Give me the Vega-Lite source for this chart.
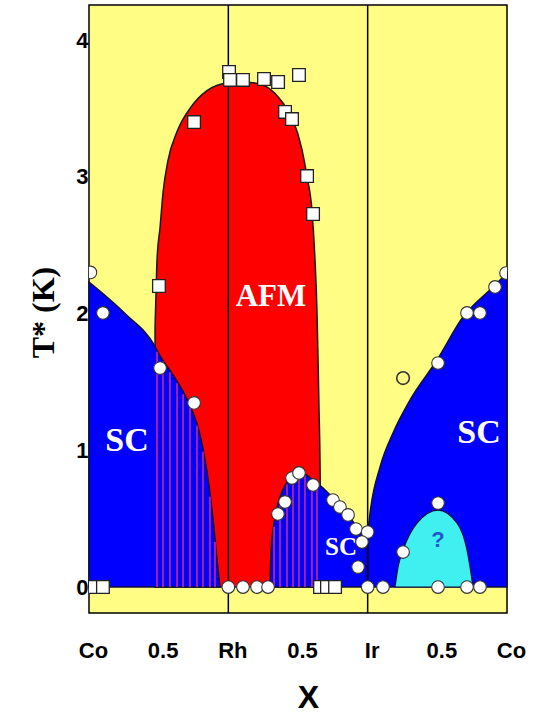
{
  "$schema": "https://vega.github.io/schema/vega-lite/v6.json",
  "width": 418,
  "height": 608,
  "autosize": "none",
  "padding": {"left": 89, "top": 5, "right": 27, "bottom": 101},
  "background": "white",
  "config": {"view": {"fill": "#FFFD84", "stroke": "#000000", "strokeWidth": 1.5}},
  "datasets": {
    "afm": [
      {"x": 0.474, "t": 1.90}, {"x": 0.481, "t": 2.15}, {"x": 0.488, "t": 2.39}, {"x": 0.510, "t": 2.63},
      {"x": 0.531, "t": 2.88}, {"x": 0.567, "t": 3.12}, {"x": 0.632, "t": 3.33}, {"x": 0.725, "t": 3.50},
      {"x": 0.847, "t": 3.63}, {"x": 1.0, "t": 3.686}, {"x": 1.156, "t": 3.69}, {"x": 1.278, "t": 3.656},
      {"x": 1.392, "t": 3.539}, {"x": 1.464, "t": 3.416}, {"x": 1.529, "t": 3.196}, {"x": 1.565, "t": 3.0},
      {"x": 1.600, "t": 2.757}, {"x": 1.622, "t": 2.391}, {"x": 1.636, "t": 2.026}, {"x": 1.644, "t": 1.66},
      {"x": 1.651, "t": 1.294}, {"x": 1.658, "t": 0.929}, {"x": 1.662, "t": 0.5}
    ],
    "sc1": [
      {"x": 0.0, "t": 2.23}, {"x": 0.258, "t": 2.0}, {"x": 0.474, "t": 1.76}, {"x": 0.510, "t": 1.69},
      {"x": 0.617, "t": 1.53}, {"x": 0.739, "t": 1.294}, {"x": 0.782, "t": 1.170}, {"x": 0.833, "t": 0.929},
      {"x": 0.883, "t": 0.563}, {"x": 0.919, "t": 0.198}, {"x": 0.940, "t": 0.0}
    ],
    "sc2": [
      {"x": 1.299, "t": 0.0}, {"x": 1.306, "t": 0.25}, {"x": 1.335, "t": 0.512}, {"x": 1.371, "t": 0.658},
      {"x": 1.421, "t": 0.768}, {"x": 1.478, "t": 0.834}, {"x": 1.514, "t": 0.841}, {"x": 1.608, "t": 0.782},
      {"x": 1.672, "t": 0.731}, {"x": 1.751, "t": 0.651}, {"x": 1.852, "t": 0.541}, {"x": 1.923, "t": 0.439},
      {"x": 2.0, "t": 0.38}
    ],
    "sc3": [
      {"x": 2.0, "t": 0.38}, {"x": 2.017, "t": 0.54}, {"x": 2.089, "t": 0.878}, {"x": 2.182, "t": 1.126},
      {"x": 2.304, "t": 1.367}, {"x": 2.498, "t": 1.66}, {"x": 2.684, "t": 1.974}, {"x": 2.900, "t": 2.194},
      {"x": 3.0, "t": 2.296}
    ],
    "cyan": [
      {"x": 2.196, "t": 0.0}, {"x": 2.218, "t": 0.146}, {"x": 2.254, "t": 0.271}, {"x": 2.354, "t": 0.468},
      {"x": 2.505, "t": 0.563}, {"x": 2.641, "t": 0.468}, {"x": 2.713, "t": 0.271}, {"x": 2.735, "t": 0.146},
      {"x": 2.756, "t": 0.0}
    ],
    "stripes": [
      {"x": 0.488, "t": 1.72}, {"x": 0.531, "t": 1.65}, {"x": 0.581, "t": 1.57}, {"x": 0.632, "t": 1.49},
      {"x": 0.675, "t": 1.41}, {"x": 0.725, "t": 1.32}, {"x": 0.775, "t": 1.18}, {"x": 0.818, "t": 0.99},
      {"x": 0.868, "t": 0.66}, {"x": 0.904, "t": 0.33},
      {"x": 1.328, "t": 0.44}, {"x": 1.371, "t": 0.64}, {"x": 1.421, "t": 0.75}, {"x": 1.464, "t": 0.81},
      {"x": 1.507, "t": 0.83}, {"x": 1.550, "t": 0.82}, {"x": 1.600, "t": 0.77}, {"x": 1.636, "t": 0.74}
    ],
    "lines": [{"x": 1, "t": 4.256}, {"x": 2, "t": 4.256}],
    "tn": [
      {"x": 1.005, "t": 3.766}, {"x": 1.012, "t": 3.708}, {"x": 1.105, "t": 3.708}, {"x": 1.256, "t": 3.715},
      {"x": 1.357, "t": 3.693}, {"x": 1.507, "t": 3.744}, {"x": 1.407, "t": 3.474}, {"x": 1.457, "t": 3.422},
      {"x": 1.565, "t": 3.005}, {"x": 1.608, "t": 2.728}, {"x": 0.754, "t": 3.400}, {"x": 0.502, "t": 2.201},
      {"x": 0.029, "t": 0}, {"x": 0.100, "t": 0}, {"x": 1.658, "t": 0}, {"x": 1.708, "t": 0}, {"x": 1.766, "t": 0}
    ],
    "tc": [
      {"x": 0.01, "t": 2.30}, {"x": 0.100, "t": 2.004}, {"x": 0.510, "t": 1.601}, {"x": 0.754, "t": 1.346},
      {"x": 1.0, "t": 0}, {"x": 1.105, "t": 0}, {"x": 1.206, "t": 0}, {"x": 1.285, "t": 0},
      {"x": 2.0, "t": 0}, {"x": 2.110, "t": 0}, {"x": 2.505, "t": 0}, {"x": 2.713, "t": 0}, {"x": 2.806, "t": 0},
      {"x": 1.356, "t": 0.534}, {"x": 1.407, "t": 0.622}, {"x": 1.457, "t": 0.797}, {"x": 1.507, "t": 0.834},
      {"x": 1.608, "t": 0.746}, {"x": 1.751, "t": 0.636}, {"x": 1.801, "t": 0.585}, {"x": 1.859, "t": 0.527},
      {"x": 1.916, "t": 0.424}, {"x": 2.0, "t": 0.402}, {"x": 1.959, "t": 0.329}, {"x": 1.931, "t": 0.146},
      {"x": 2.254, "t": 0.256}, {"x": 2.505, "t": 0.614}, {"x": 2.505, "t": 1.638}, {"x": 2.713, "t": 2.004},
      {"x": 2.806, "t": 2.004}, {"x": 2.914, "t": 2.194}, {"x": 2.993, "t": 2.296}
    ],
    "tcopen": [{"x": 2.254, "t": 1.528}]
  },
  "encoding": {
    "x": {
      "field": "x", "type": "quantitative",
      "scale": {"domain": [0, 3], "nice": false, "zero": false},
      "axis": {
        "values": [0, 0.5, 1, 1.5, 2, 2.5, 3],
        "labelExpr": "datum.value == 0 || datum.value == 3 ? 'Co' : (datum.value == 1 ? 'Rh' : (datum.value == 2 ? 'Ir' : '0.5'))",
        "labelFont": "Liberation Sans", "labelFontWeight": "bold", "labelFontSize": 22, "labelColor": "#000000",
        "labelFlush": false, "labelOverlap": false, "labelBaseline": "alphabetic", "labelPadding": 44, "labelOffset": 4,
        "ticks": false, "tickSize": 0, "domain": false, "grid": false,
        "title": "X", "titleFont": "Liberation Sans", "titleFontWeight": "bold", "titleFontSize": 32,
        "titleColor": "#000000", "titleBaseline": "alphabetic", "titleX": 219, "titleY": 94
      }
    },
    "y": {
      "field": "t", "type": "quantitative",
      "scale": {"domain": [-0.19, 4.256], "nice": false, "zero": false},
      "axis": {
        "values": [0, 1, 2, 3, 4], "format": "d",
        "labelFont": "Liberation Sans", "labelFontWeight": "bold", "labelFontSize": 22, "labelColor": "#000000",
        "labelPadding": 1, "ticks": false, "tickSize": 0, "domain": false, "grid": false,
        "title": "T* (K)", "titleFont": "Liberation Serif", "titleFontWeight": "bold", "titleFontSize": 32,
        "titleColor": "#000000", "titleAngle": 270, "titleBaseline": "alphabetic", "titleX": -36, "titleY": 307
      }
    }
  },
  "layer": [
    {"data": {"name": "afm"}, "mark": {"type": "area", "interpolate": "monotone", "fill": "#FF0000", "stroke": "#1a1a1a", "strokeWidth": 1.5, "opacity": 1}, "encoding": {"y2": {"datum": 0}}},
    {"data": {"name": "sc1"}, "mark": {"type": "area", "interpolate": "monotone", "fill": "#0000FF", "stroke": "#10103a", "strokeWidth": 1.5, "opacity": 1}, "encoding": {"y2": {"datum": 0}}},
    {"data": {"name": "sc2"}, "mark": {"type": "area", "interpolate": "monotone", "fill": "#0000FF", "stroke": "#10103a", "strokeWidth": 1.5, "opacity": 1}, "encoding": {"y2": {"datum": 0}}},
    {"data": {"name": "sc3"}, "mark": {"type": "area", "interpolate": "monotone", "fill": "#0000FF", "stroke": "#10103a", "strokeWidth": 1.5, "opacity": 1}, "encoding": {"y2": {"datum": 0}}},
    {"data": {"name": "cyan"}, "mark": {"type": "area", "interpolate": "monotone", "fill": "#40F0F0", "stroke": "#10103a", "strokeWidth": 1.2, "opacity": 1}, "encoding": {"y2": {"datum": 0}}},
    {"data": {"name": "stripes"}, "mark": {"type": "rule", "color": "#B0249A", "strokeWidth": 1.8}, "encoding": {"y2": {"datum": 0}}},
    {"data": {"name": "lines"}, "mark": {"type": "rule", "color": "#000000", "strokeWidth": 1.5, "opacity": 1}, "encoding": {"y2": {"datum": -0.19}}},
    {"data": {"values": [{"x": 1.306, "t": 2.121, "label": "AFM"}]}, "mark": {"type": "text", "font": "Liberation Serif", "fontWeight": "bold", "fontSize": 31, "color": "#FFFFFF", "baseline": "middle", "align": "center"}, "encoding": {"text": {"field": "label"}}},
    {"data": {"values": [{"x": 0.273, "t": 1.068, "label": "SC"}, {"x": 2.799, "t": 1.126, "label": "SC"}]}, "mark": {"type": "text", "font": "Liberation Serif", "fontWeight": "bold", "fontSize": 34, "color": "#FFFFFF", "baseline": "middle", "align": "center"}, "encoding": {"text": {"field": "label"}}},
    {"data": {"values": [{"x": 1.809, "t": 0.293, "label": "SC"}]}, "mark": {"type": "text", "font": "Liberation Serif", "fontWeight": "bold", "fontSize": 25, "color": "#FFFFFF", "baseline": "middle", "align": "center"}, "encoding": {"text": {"field": "label"}}},
    {"data": {"values": [{"x": 2.505, "t": 0.344, "label": "?"}]}, "mark": {"type": "text", "font": "Liberation Sans", "fontWeight": "bold", "fontSize": 22, "color": "#2058C8", "baseline": "middle", "align": "center"}, "encoding": {"text": {"field": "label"}}},
    {"data": {"name": "tn"}, "mark": {"type": "square", "size": 160, "filled": true, "fill": "#FFFFFF", "stroke": "#222222", "strokeWidth": 1.3, "opacity": 1, "clip": true}},
    {"data": {"name": "tc"}, "mark": {"type": "circle", "size": 160, "filled": true, "fill": "#FFFFFF", "stroke": "#333333", "strokeWidth": 1.1, "opacity": 1, "clip": true}},
    {"data": {"name": "tcopen"}, "mark": {"type": "point", "shape": "circle", "size": 160, "filled": false, "stroke": "#333333", "strokeWidth": 1.6, "opacity": 1}}
  ]
}
